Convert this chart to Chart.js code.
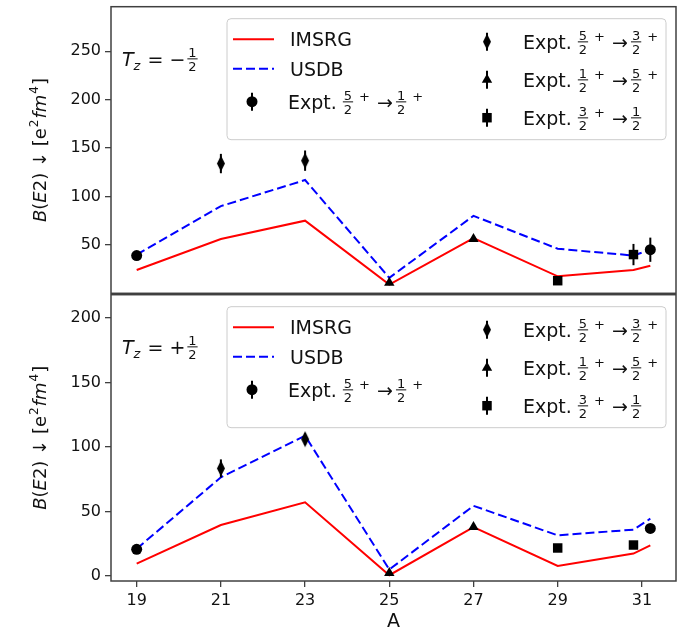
<!DOCTYPE html>
<html>
<head>
<meta charset="utf-8">
<script src="https://cdn.jsdelivr.net/npm/chart.js@4.4.0/dist/chart.umd.min.js"></script>
<style>
  body { margin: 0; background: #fff; }
  #wrap { position: relative; width: 689px; height: 636px; }
  #cTop { position: absolute; left: 0; top: 0; width: 689px; height: 300px; }
  #cBot { position: absolute; left: 0; top: 288px; width: 689px; height: 348px; }
</style>
</head>
<body>
<div id="wrap">
  <canvas id="cTop" width="689" height="300"></canvas>
  <canvas id="cBot" width="689" height="348"></canvas>
</div>
<script>
//---------- data ----------
const massA = [19, 21, 23, 25, 27, 29, 30.8, 31.2];
const xTicks = [19, 21, 23, 25, 27, 29, 31];
const yTicksMinus = [50, 100, 150, 200, 250];
const yTicksPlus = [0, 50, 100, 150, 200];

// Tz = -1/2
const imsrgMinus = [24, 56, 75, 9, 57, 17.5, 24, 28.5];
const usdbMinus = [40, 90, 117, 16, 80, 46, 39, 45];
const circMinusA = [19, 31.2], circMinus = [39, 45], circMinusErr = [2, 12.5];
const diamMinusA = [21, 23], diamMinus = [134, 137], diamMinusErr = [10, 10.5];
const triMinusA = [25, 27], triMinus = [11, 56], triMinusErr = [0, 0];
const sqMinusA = [29, 30.8], sqMinus = [13, 40], sqMinusErr = [0, 11];

// Tz = +1/2
const imsrgPlus = [9.5, 39.4, 57, 0.5, 37.8, 7.7, 17.3, 23.7];
const usdbPlus = [21, 76.4, 108.6, 4.9, 54.3, 31.4, 35.8, 44.3];
const circPlusA = [19, 31.2], circPlus = [20.6, 36.8], circPlusErr = [0, 0];
const diamPlusA = [21, 23], diamPlus = [83.3, 106], diamPlusErr = [7, 4.5];
const triPlusA = [25, 27], triPlus = [2.3, 37.8], triPlusErr = [0, 0];
const sqPlusA = [29, 30.8], sqPlus = [21.6, 23.9], sqPlusErr = [0, 0];

const FONT = '"DejaVu Sans", sans-serif';
const INK = '#111';

//---------- helpers ----------
function pts(xs, ys) {
  return xs.map(function(x, i) { return {x: x, y: ys[i]}; });
}

// matplotlib thin diamond 'd'
function thinDiamond() {
  const c = document.createElement('canvas');
  c.width = 10; c.height = 17;
  const g = c.getContext('2d');
  g.fillStyle = '#000';
  g.beginPath();
  g.moveTo(5, 0.5); g.lineTo(9, 8.5); g.lineTo(5, 16.5); g.lineTo(1, 8.5);
  g.closePath(); g.fill();
  return c;
}
const diamondImg = thinDiamond();

function marker(ctx, kind, x, y) {
  ctx.fillStyle = '#000';
  ctx.beginPath();
  if (kind == 'circle') {
    ctx.arc(x, y, 5.5, 0, Math.PI * 2);
  } else if (kind == 'diamond') {
    ctx.drawImage(diamondImg, x - 5, y - 8.5);
    return;
  } else if (kind == 'triangle') {
    const r = 6;
    ctx.moveTo(x, y - r); ctx.lineTo(x + 0.866 * r, y + 0.5 * r); ctx.lineTo(x - 0.866 * r, y + 0.5 * r);
    ctx.closePath();
  } else {
    const s = 6.7 * Math.SQRT1_2;
    ctx.rect(x - s, y - s, 2 * s, 2 * s);
  }
  ctx.fill();
}

// draws a row of mathtext-like parts, baseline at y
function mathRow(ctx, x, y, parts, size) {
  const small = Math.round(size * 0.68);
  ctx.textAlign = 'left';
  ctx.textBaseline = 'alphabetic';
  ctx.fillStyle = INK;
  parts.forEach(function(p) {
    if (typeof p === 'string') {
      ctx.font = size + 'px ' + FONT;
      ctx.fillText(p, x, y);
      x += ctx.measureText(p).width;
    } else if (p.it) {
      ctx.font = 'italic ' + size + 'px ' + FONT;
      ctx.fillText(p.it, x, y);
      x += ctx.measureText(p.it).width;
    } else if (p.sup) {
      ctx.font = small + 'px ' + FONT;
      ctx.fillText(p.sup, x + 1, y - size * 0.42);
      x += ctx.measureText(p.sup).width + 2;
    } else if (p.sub) {
      ctx.font = 'italic ' + small + 'px ' + FONT;
      ctx.fillText(p.sub, x, y + size * 0.22);
      x += ctx.measureText(p.sub).width + 1;
    } else if (p.frac) {
      ctx.font = small + 'px ' + FONT;
      const w = Math.max(ctx.measureText(p.frac[0]).width, ctx.measureText(p.frac[1]).width) + 2;
      const mid = y - size * 0.36;
      ctx.textAlign = 'center';
      ctx.fillText(p.frac[0], x + w / 2, mid - 2.2);
      ctx.fillText(p.frac[1], x + w / 2, mid + small * 0.73 + 2.4);
      ctx.textAlign = 'left';
      ctx.fillRect(x, mid - 0.5, w, 1);
      x += w;
    } else if (p.gap) {
      x += p.gap;
    }
  });
  return x;
}

function rowWidth(ctx, parts, size) {
  ctx.save();
  ctx.globalAlpha = 0;
  const w = mathRow(ctx, 0, -100, parts, size);
  ctx.restore();
  return w;
}

//---------- plugins ----------
const errPlugin = {
  id: 'errbars',
  afterDatasetsDraw(chart) {
    const ctx = chart.ctx, sx = chart.scales.x, sy = chart.scales.y;
    ctx.save();
    ctx.strokeStyle = '#000';
    ctx.lineWidth = 2;
    chart.data.datasets.forEach(function(ds) {
      if (!ds.err) return;
      ds.data.forEach(function(p, i) {
        const e = ds.err[i];
        if (!e) return;
        const px = sx.getPixelForValue(p.x);
        ctx.beginPath();
        ctx.moveTo(px, sy.getPixelForValue(p.y - e));
        ctx.lineTo(px, sy.getPixelForValue(p.y + e));
        ctx.stroke();
      });
    });
    ctx.restore();
  }
};

const decoPlugin = {
  id: 'deco',
  afterDraw(chart) {
    const ctx = chart.ctx, a = chart.chartArea, o = chart.options.plugins.deco;
    const t = a.top;
    ctx.save();
    // frame
    ctx.strokeStyle = '#404040';
    ctx.lineWidth = 1.5;
    ctx.strokeRect(a.left, a.top, a.right - a.left, a.bottom - a.top);

    // Tz label
    mathRow(ctx, 122, t + 59, [{it: 'T'}, {sub: 'z'}, ' = ' + o.sign, {gap: 2}, {frac: ['1', '2']}], 19);

    // legend box
    const bx = 227, by = t + 12, bw = 439, bh = 121, r = 4;
    ctx.beginPath();
    ctx.moveTo(bx + r, by);
    ctx.arcTo(bx + bw, by, bx + bw, by + bh, r);
    ctx.arcTo(bx + bw, by + bh, bx, by + bh, r);
    ctx.arcTo(bx, by + bh, bx, by, r);
    ctx.arcTo(bx, by, bx + bw, by, r);
    ctx.closePath();
    ctx.fillStyle = 'rgba(255,255,255,0.8)';
    ctx.fill();
    ctx.strokeStyle = '#cccccc';
    ctx.lineWidth = 1;
    ctx.stroke();

    // legend lines
    ctx.lineWidth = 2;
    ctx.strokeStyle = '#ff0000';
    ctx.beginPath(); ctx.moveTo(233, t + 32.5); ctx.lineTo(274, t + 32.5); ctx.stroke();
    ctx.strokeStyle = '#0000ff';
    ctx.setLineDash([9, 4]);
    ctx.beginPath(); ctx.moveTo(233, t + 62); ctx.lineTo(274, t + 62); ctx.stroke();
    ctx.setLineDash([]);
    mathRow(ctx, 290, t + 32.5 + 7, ['IMSRG'], 19);
    mathRow(ctx, 290, t + 62.5 + 7, ['USDB'], 19);

    // legend markers with error bars
    const rows = [
      {kind: 'circle', x: 252, y: t + 95, a: ['5', '2'], b: ['1', '2'], plus: true},
      {kind: 'diamond', x: 487, y: t + 35, a: ['5', '2'], b: ['3', '2'], plus: true},
      {kind: 'triangle', x: 487, y: t + 73, a: ['1', '2'], b: ['5', '2'], plus: true},
      {kind: 'rect', x: 487, y: t + 111, a: ['3', '2'], b: ['1', '2'], plus: false}
    ];
    rows.forEach(function(rw) {
      ctx.strokeStyle = '#000';
      ctx.lineWidth = 2;
      ctx.beginPath(); ctx.moveTo(rw.x, rw.y - 9); ctx.lineTo(rw.x, rw.y + 9); ctx.stroke();
      marker(ctx, rw.kind, rw.x, rw.y);
      const parts = ['Expt. ', {frac: rw.a}, {gap: 5}, {sup: '+'}, ' \u2192', {gap: 3}, {frac: rw.b}];
      if (rw.plus) parts.push({gap: 5}, {sup: '+'});
      mathRow(ctx, rw.x + 36, rw.y + 7, parts, 19);
    });

    // y-axis title, rotated
    const yParts = [{it: 'B'}, '(', {it: 'E'}, '2) \u2193 [e', {sup: '2'}, {it: 'fm'}, {sup: '4'}, ']'];
    const w = rowWidth(ctx, yParts, 18);
    ctx.translate(46, (a.top + a.bottom) / 2);
    ctx.rotate(-Math.PI / 2);
    mathRow(ctx, -w / 2, 0, yParts, 18);
    ctx.setTransform(1, 0, 0, 1, 0, 0);

    // x-axis title
    if (o.xTitle) {
      ctx.font = '19px ' + FONT;
      ctx.fillStyle = INK;
      ctx.textAlign = 'center';
      ctx.textBaseline = 'alphabetic';
      ctx.fillText('A', (a.left + a.right) / 2, a.bottom + 46);
    }
    ctx.restore();
  }
};

//---------- charts ----------
function makeChart(id, sets, yMin, yMax, yTicks, bottom, sign) {
  const ctx = document.getElementById(id).getContext('2d');
  const datasets = [
    {type: 'scatter', data: pts(sets.circA, sets.circ), err: sets.circErr, pointStyle: 'circle', pointRadius: 5.5, backgroundColor: '#000', borderWidth: 0, order: 0, clip: false},
    {type: 'scatter', data: pts(sets.diamA, sets.diam), err: sets.diamErr, pointStyle: diamondImg, order: 0, clip: false},
    {type: 'scatter', data: pts(sets.triA, sets.tri), err: sets.triErr, pointStyle: 'triangle', pointRadius: 6, backgroundColor: '#000', borderWidth: 0, order: 0, clip: false},
    {type: 'scatter', data: pts(sets.sqA, sets.sq), err: sets.sqErr, pointStyle: 'rect', pointRadius: 6.7, backgroundColor: '#000', borderWidth: 0, order: 0, clip: false},
    {type: 'line', data: pts(massA, sets.usdb), borderColor: '#0000ff', borderWidth: 2, borderDash: [9, 4], pointRadius: 0, tension: 0, fill: false, order: 1},
    {type: 'line', data: pts(massA, sets.imsrg), borderColor: '#ff0000', borderWidth: 2, pointRadius: 0, tension: 0, fill: false, order: 2}
  ];
  return new Chart(ctx, {
    type: 'scatter',
    data: {datasets: datasets},
    plugins: [errPlugin, decoPlugin],
    options: {
      responsive: false,
      animation: false,
      layout: {padding: {left: 0, top: 5, right: 13, bottom: bottom ? 0 : 6}},
      plugins: {
        legend: {display: false},
        tooltip: {enabled: false},
        deco: {sign: sign, xTitle: bottom}
      },
      scales: {
        x: {
          type: 'linear',
          display: bottom,
          min: 18.39,
          max: 31.81,
          afterBuildTicks: function(axis) { axis.ticks = xTicks.map(function(v) { return {value: v}; }); },
          afterFit: function(axis) {
            if (bottom) axis.height = 55;
            axis.paddingLeft = 0; axis.paddingRight = 0;
          },
          grid: {drawOnChartArea: false, drawTicks: true, tickLength: 6, color: '#404040', lineWidth: 1.3},
          border: {display: false},
          ticks: {color: INK, font: {family: FONT, size: 16}, padding: 4, maxRotation: 0}
        },
        y: {
          type: 'linear',
          min: yMin,
          max: yMax,
          afterBuildTicks: function(axis) { axis.ticks = yTicks.map(function(v) { return {value: v}; }); },
          afterFit: function(axis) {
            axis.width = 111;
            axis.paddingTop = 0; axis.paddingBottom = 0;
          },
          grid: {drawOnChartArea: false, drawTicks: true, tickLength: 6, color: '#404040', lineWidth: 1.3},
          border: {display: false},
          ticks: {color: INK, font: {family: FONT, size: 16}, padding: 4}
        }
      }
    }
  });
}

makeChart('cTop', {
  imsrg: imsrgMinus, usdb: usdbMinus,
  circA: circMinusA, circ: circMinus, circErr: circMinusErr,
  diamA: diamMinusA, diam: diamMinus, diamErr: diamMinusErr,
  triA: triMinusA, tri: triMinus, triErr: triMinusErr,
  sqA: sqMinusA, sq: sqMinus, sqErr: sqMinusErr
}, 0, 296, yTicksMinus, false, '\u2212');

makeChart('cBot', {
  imsrg: imsrgPlus, usdb: usdbPlus,
  circA: circPlusA, circ: circPlus, circErr: circPlusErr,
  diamA: diamPlusA, diam: diamPlus, diamErr: diamPlusErr,
  triA: triPlusA, tri: triPlus, triErr: triPlusErr,
  sqA: sqPlusA, sq: sqPlus, sqErr: sqPlusErr
}, -4, 218, yTicksPlus, true, '+');
</script>
</body>
</html>
